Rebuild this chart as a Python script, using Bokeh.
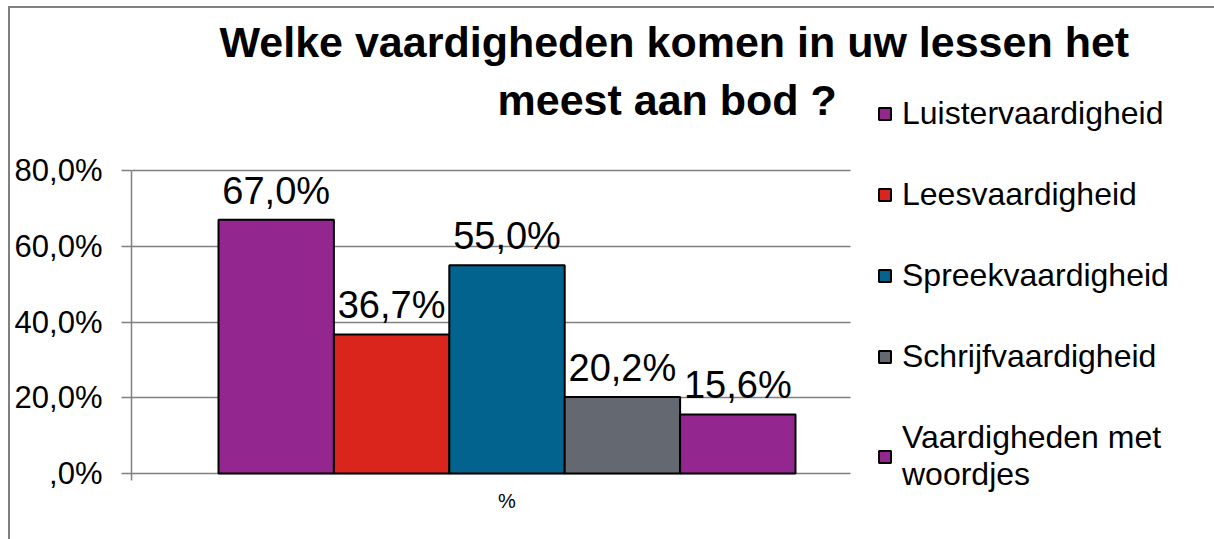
from bokeh.plotting import figure
from bokeh.models import Range1d, FixedTicker, Legend, LegendItem, Label, BoxAnnotation, ColumnDataSource
from bokeh.embed import file_html
from bokeh.resources import INLINE
from bokeh.core.properties import value

# ---- data ----
categories = ["Luistervaardigheid", "Leesvaardigheid", "Spreekvaardigheid",
              "Schrijfvaardigheid", "Vaardigheden met\nwoordjes"]
values = [67.0, 36.7, 55.0, 20.2, 15.6]
colors = ["#93278F", "#DA251D", "#02638F", "#646870", "#93278F"]
y_ticks = [0, 20, 40, 60, 80]
y_tick_labels = [",0%", "20,0%", "40,0%", "60,0%", "80,0%"]
x_label = "%"
title_lines = ["Welke vaardigheden komen in uw lessen het", "meest aan bod ?"]

# ---- layout (page pixels) ----
FONT = "Liberation Sans"
ORG_X, ORG_Y = 8, 6                  # where the chart box starts on the page
W, H = 1214 - ORG_X, 539 - ORG_Y
PX_LEFT, PX_RIGHT, PX_TOP, PX_BOTTOM = 131, 1214, 10, 493   # drawing frame
PX_Y0, PX_YMAX = 473, 170            # value axis extent
PX_BAR_LEFT, BAR_PX = 218, 115.4     # first bar's left edge, bar width
PX_PLOT_END = 850                    # where the plot area (grid) ends
PX_LEG_X = 877                       # legend swatch column

ppu = (PX_Y0 - PX_YMAX) / (y_ticks[-1] - y_ticks[0])
y_start = y_ticks[0] - (PX_BOTTOM - PX_Y0) / ppu
y_end = y_ticks[-1] + (PX_YMAX - PX_TOP) / ppu
x_start = -0.5 - (PX_BAR_LEFT - PX_LEFT) / BAR_PX
x_end = x_start + (PX_RIGHT - PX_LEFT) / BAR_PX

xs = list(range(len(values)))
labels = [f"{v:.1f}".replace(".", ",") + "%" for v in values]
src = ColumnDataSource(dict(x=xs, top=values, color=colors, label=labels))

p = figure(width=W, height=H, output_backend="svg", toolbar_location=None,
           x_range=Range1d(x_start, x_end), y_range=Range1d(y_start, y_end),
           min_border_left=PX_LEFT - ORG_X, min_border_right=0,
           min_border_top=PX_TOP - ORG_Y, min_border_bottom=539 - PX_BOTTOM)
p.outline_line_color = None
p.border_fill_color = None
p.background_fill_color = "white"
p.styles = {"margin-left": f"{ORG_X}px", "margin-top": f"{ORG_Y}px",
            "box-shadow": "inset 2px 2px 0 0 #808080"}

grid_col = "#808080"
p.xgrid.visible = False
p.ygrid.ticker = FixedTicker(ticks=y_ticks)
p.ygrid.grid_line_color = grid_col
p.ygrid.grid_line_width = 1.5

bars = p.vbar(x="x", top="top", bottom=0, width=1.0, source=src,
              fill_color="color", line_color="black", line_width=2)

p.text(x="x", y="top", text="label", source=src, text_align="center",
       text_baseline="bottom", y_offset=-8,
       text_font=value(FONT), text_font_size="38px", text_color="black")

# value axis
p.yaxis.ticker = FixedTicker(ticks=y_ticks)
p.yaxis.bounds = (y_ticks[0] - 7 / ppu, y_ticks[-1])
p.yaxis.major_label_overrides = dict(zip(y_ticks, y_tick_labels))
p.yaxis.major_label_text_font = FONT
p.yaxis.major_label_text_font_size = "31px"
p.yaxis.major_label_text_color = "black"
p.yaxis.major_tick_out = 10
p.yaxis.major_tick_in = 0
p.yaxis.minor_tick_line_color = None
p.yaxis.major_label_standoff = 19
p.yaxis.axis_line_color = grid_col
p.yaxis.axis_line_width = 1.5
p.yaxis.major_tick_line_color = grid_col
p.yaxis.major_tick_line_width = 1.5

# category axis (label only; the zero grid line is the base line)
center = (len(values) - 1) / 2
p.xaxis.ticker = FixedTicker(ticks=[center])
p.xaxis.major_label_overrides = {center: x_label}
p.xaxis.major_label_text_font = FONT
p.xaxis.major_label_text_font_size = "20px"
p.xaxis.major_label_text_color = "black"
p.xaxis.major_tick_line_color = None
p.xaxis.minor_tick_line_color = None
p.xaxis.axis_line_color = None
p.xaxis.major_label_standoff = -10

# white area right of the plot area (legend zone)
p.add_layout(BoxAnnotation(left=PX_PLOT_END - PX_LEFT, left_units="screen",
                           fill_color="white", fill_alpha=1.0, line_color=None))

# legend
items = [LegendItem(label=c, renderers=[bars], index=i) for i, c in enumerate(categories)]
legend = Legend(items=items, location=(PX_LEG_X - PX_LEFT, 0), margin=0,
                label_text_font=FONT, label_text_font_size="32px", label_text_color="black",
                glyph_width=15, glyph_height=15, label_standoff=10, spacing=44,
                background_fill_alpha=0.0, border_line_color=None)
p.add_layout(legend)

# title, two lines
for txt, left, base in [(title_lines[0], 219, 41), (title_lines[1], 497, 99)]:
    p.add_layout(Label(x=left - PX_LEFT, y=PX_BOTTOM - base, x_units="screen", y_units="screen",
                       text=txt, text_align="left", text_baseline="alphabetic",
                       text_font=FONT, text_font_size="43px", text_font_style="bold",
                       text_color="black"))

open("out.html", "w").write(file_html(p, INLINE))
